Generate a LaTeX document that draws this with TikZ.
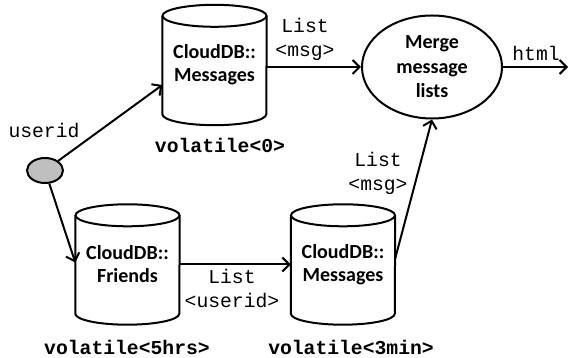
\documentclass[tikz,border=0pt]{standalone}
\usepackage{fontspec}
\setmainfont{Carlito}
\newfontfamily\codefont{Liberation Mono}
\usetikzlibrary{arrows.meta,calc,shapes.geometric}

% outline of a database drum around a named rectangle node
\newcommand\drum[1]{%
  \draw[wire] ($(#1.north west)+(0,-11pt)$) -- ($(#1.south west)+(0,11pt)$)
    arc[start angle=180,end angle=360,x radius=52pt,y radius=11pt]
    -- ($(#1.north east)+(0,-11pt)$);
  \draw[wire] ($(#1.north)+(0,-11pt)$) ellipse[x radius=52pt,y radius=11pt];
}

\begin{document}
\begin{tikzpicture}[x=1pt,y=1pt,
  wire/.style={line width=2pt},
  flow/.style={line width=2pt,-{Straight Barb[length=7pt,width=14pt,line width=2pt]}},
  store/.style={rectangle,inner sep=0pt,minimum width=104pt,minimum height=120pt,
    align=center,font=\bfseries\fontsize{20}{23}\selectfont},
  task/.style={ellipse,draw,line width=2pt,inner sep=0pt,minimum width=140pt,
    minimum height=103pt,align=center,font=\bfseries\fontsize{20}{24.5}\selectfont},
  code/.style={inner sep=0pt,align=center,font=\codefont\fontsize{19.7}{24}\selectfont},
  ttl/.style={inner sep=0pt,font=\codefont\bfseries\fontsize{19.7}{24}\selectfont}]
\useasboundingbox (0,0) rectangle (570,358);

% stores
\node[store] (msgA) at (214.5,293) {CloudDB::\\Messages};
\node[store] (friends) at (127.5,93.5) {CloudDB::\\Friends};
\node[store] (msgB) at (343,93.5) {CloudDB::\\Messages};
\drum{msgA}
\drum{friends}
\drum{msgB}

% merge step and input point
\node[task] (merge) at (432,291) {Merge\\message\\lists};
\node[ellipse,draw,line width=2pt,fill=black!25,minimum width=36pt,minimum height=25pt,inner sep=0pt] (user) at (45,187.5) {};
\coordinate (out) at (568,291);

% cache lifetimes
\node[ttl] (ttlA) at (220,213) {volatile<0>};
\node[ttl] (ttlF) at (127,11) {volatile<5hrs>};
\node[ttl] (ttlB) at (351,11) {volatile<3min>};

% data labels
\node[code] (uid) at (44,228) {userid};
\node[code] (lblA) at (305,318.5) {List\\<msg>};
\node[code] (lblF) at (232,69.5) {List\\<userid>};
\node[code] (lblB) at (378,184.5) {List\\<msg>};
\node[code] (lblOut) at (536,305) {html};

% connectors
\draw[flow] (user) -- ($(msgA.west)+(0,-20pt)$);
\draw[flow] (user) -- ($(friends.west)+(0,2pt)$);
\draw[flow] (friends.east) -- (msgB.west);
\draw[flow] (msgA.east |- merge.west) -- (merge.west);
\draw[flow] ($(msgB.east)+(0,6pt)$) -- (merge.south);
\draw[flow] (merge.east) -- (out);
\end{tikzpicture}
\end{document}
